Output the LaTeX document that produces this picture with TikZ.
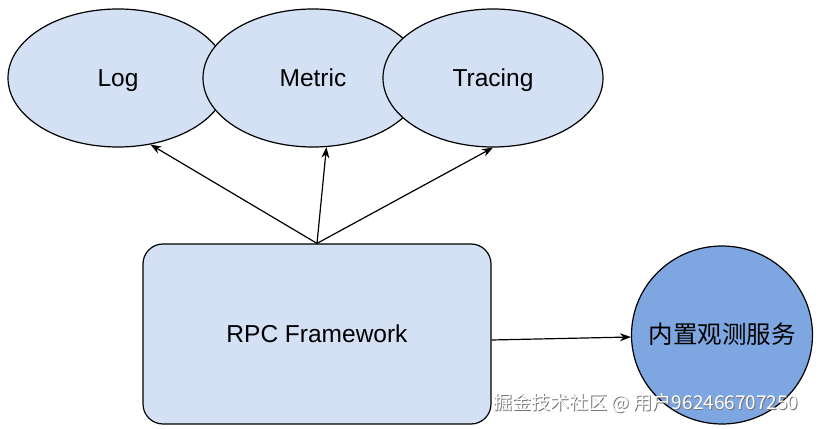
\documentclass[tikz,border=0pt]{standalone}
\usepackage{fontspec}
\setmainfont{Liberation Sans}
\newfontfamily\cjk{Noto Sans CJK SC}
\usetikzlibrary{shapes.geometric,arrows.meta}
\definecolor{lightfill}{RGB}{212,225,245}
\definecolor{darkfill}{RGB}{126,166,224}
\begin{document}
\begin{tikzpicture}[x=1pt,y=1pt,
  lbl/.style={font=\fontsize{24.5}{28}\selectfont,text height=17.6pt,text depth=0pt,inner sep=0pt},
  obsell/.style={ellipse,draw=black,line width=1.2pt,fill=lightfill,minimum width=220pt,minimum height=138pt,inner sep=0pt},
  fwbox/.style={rectangle,rounded corners=20pt,draw=black,line width=1.2pt,fill=lightfill,minimum width=348pt,minimum height=180pt,inner sep=0pt},
  svccirc/.style={ellipse,draw=black,line width=1.2pt,fill=darkfill,minimum width=181pt,minimum height=178pt,inner sep=0pt},
  conn/.style={line width=1.2pt,-{Stealth[length=11pt,width=8pt]}},
  wmark/.style={font=\cjk\fontsize{19}{22}\selectfont,inner sep=0pt}
]
\useasboundingbox (0,0) rectangle (821,428);
\node[obsell] (log) at (118,350) {};
\node[lbl] (logt) at (log.center) {Log};
\node[obsell] (metric) at (313,350) {};
\node[lbl] (metrict) at (metric.center) {Metric};
\node[obsell] (tracing) at (493,350) {};
\node[lbl] (tracingt) at (tracing.center) {Tracing};
\node[fwbox] (rpc) at (317,94) {};
\node[lbl] (rpct) at (rpc.center) {RPC Framework};
\node[svccirc] (obs) at (722,93) {};
\node[lbl] (obst) at (obs.center) {\cjk 内置观测服务};
\draw[conn] (rpc.north) -- (log.-64);
\draw[conn] (rpc.north) -- (metric.-79);
\draw[conn] (rpc.north) -- (tracing.-90);
\draw[conn] ([yshift=-6pt]rpc.east) -- ([yshift=-2pt]obs.west);
\node[wmark,text=gray!90!black] (wm1) at (646.8,24.2) {掘金技术社区 @ 用户962466707250};
\node[wmark,text=white] (wm2) at (646,25) {掘金技术社区 @ 用户962466707250};
\end{tikzpicture}
\end{document}
